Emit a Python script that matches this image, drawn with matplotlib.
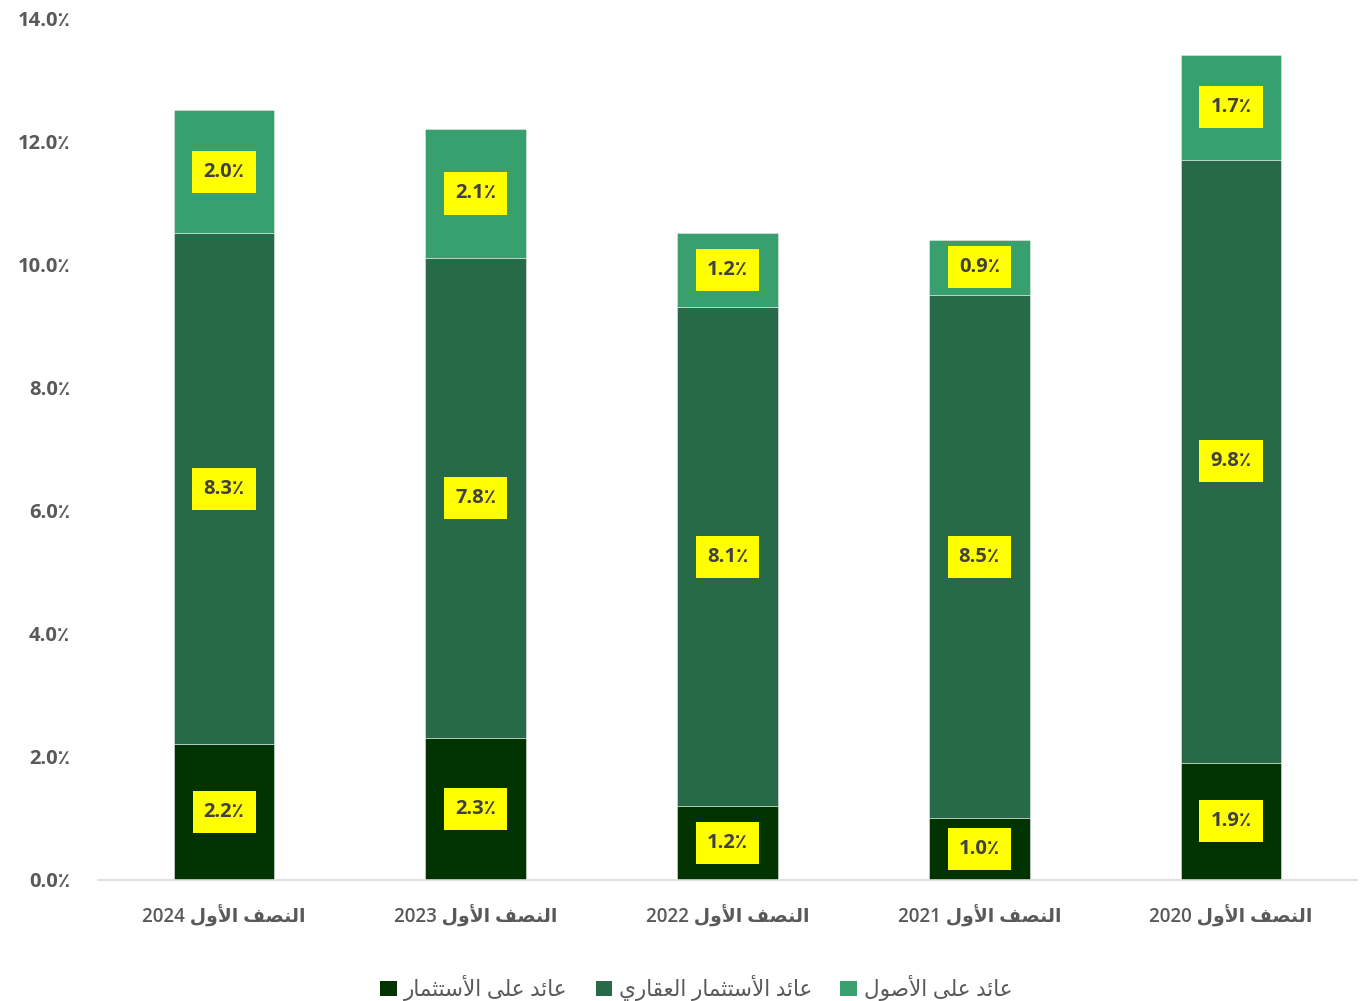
import numpy as np
import matplotlib
matplotlib.use("Agg")
import matplotlib.pyplot as plt
from matplotlib.patches import Patch

plt.rcParams['font.family'] = ['Open Sans', 'DejaVu Sans']

# data
periods = ["النصف الأول 2024", "النصف الأول 2023", "النصف الأول 2022",
           "النصف الأول 2021", "النصف الأول 2020"]
return_on_investment = [2.2, 2.3, 1.2, 1.0, 1.9]
real_estate_return = [8.3, 7.8, 8.1, 8.5, 9.8]
return_on_assets = [2.0, 2.1, 1.2, 0.9, 1.7]
series_names = ["عائد على الأستثمار", "عائد الأستثمار العقاري", "عائد على الأصول"]
yticks = [0, 2, 4, 6, 8, 10, 12, 14]

colors = ["#003300", "#276A48", "#38A06F"]
text_gray = "#595959"

# simple arabic shaping: (isolated, final, initial, medial); None = no left join
FORMS = {
    'ا': (0xFE8D, 0xFE8E, None, None), 'أ': (0xFE83, 0xFE84, None, None),
    'ت': (0xFE95, 0xFE96, 0xFE97, 0xFE98), 'ث': (0xFE99, 0xFE9A, 0xFE9B, 0xFE9C),
    'د': (0xFEA9, 0xFEAA, None, None), 'ر': (0xFEAD, 0xFEAE, None, None),
    'س': (0xFEB1, 0xFEB2, 0xFEB3, 0xFEB4), 'ص': (0xFEB9, 0xFEBA, 0xFEBB, 0xFEBC),
    'ع': (0xFEC9, 0xFECA, 0xFECB, 0xFECC), 'ف': (0xFED1, 0xFED2, 0xFED3, 0xFED4),
    'ق': (0xFED5, 0xFED6, 0xFED7, 0xFED8), 'ل': (0xFEDD, 0xFEDE, 0xFEDF, 0xFEE0),
    'م': (0xFEE1, 0xFEE2, 0xFEE3, 0xFEE4), 'ن': (0xFEE5, 0xFEE6, 0xFEE7, 0xFEE8),
    'و': (0xFEED, 0xFEEE, None, None), 'ى': (0xFEEF, 0xFEF0, None, None),
    'ي': (0xFEF1, 0xFEF2, 0xFEF3, 0xFEF4), 'ئ': (0xFE89, 0xFE8A, 0xFE8B, 0xFE8C),
}
LAM_ALEF = {'ا': (0xFEFB, 0xFEFC), 'أ': (0xFEF7, 0xFEF8)}


def shape_word(w):
    chars = list(w)
    # merge lam-alef
    units = []
    i = 0
    while i < len(chars):
        if chars[i] == 'ل' and i + 1 < len(chars) and chars[i + 1] in LAM_ALEF:
            units.append(('LA', chars[i + 1]))
            i += 2
        else:
            units.append(('C', chars[i]))
            i += 1

    def joins_left(u):
        return u[0] == 'C' and u[1] in FORMS and FORMS[u[1]][2] is not None

    out = []
    for k, u in enumerate(units):
        prev_joins = k > 0 and joins_left(units[k - 1])
        if u[0] == 'LA':
            code = LAM_ALEF[u[1]][1 if prev_joins else 0]
            out.append(chr(code))
            continue
        c = u[1]
        if c not in FORMS:
            out.append(c)
            continue
        f = FORMS[c]
        next_exists = k + 1 < len(units) and (units[k + 1][0] == 'LA' or units[k + 1][1] in FORMS)
        can_left = f[2] is not None and next_exists
        if prev_joins and can_left:
            out.append(chr(f[3]))
        elif prev_joins:
            out.append(chr(f[1]))
        elif can_left:
            out.append(chr(f[2]))
        else:
            out.append(chr(f[0]))
    return ''.join(reversed(out))


def ar(s):
    words = s.split(' ')
    vis = [w if w.isdigit() else shape_word(w) for w in words]
    return ' '.join(reversed(vis))


fig = plt.figure(figsize=(13.63, 10.01), dpi=100)
ax = fig.add_axes([0.072, 0.121, 0.9236, 0.861])

x = np.arange(len(periods))
width = 0.4
stacks = [return_on_investment, real_estate_return, return_on_assets]
bottom = np.zeros(len(periods))
for vals, col in zip(stacks, colors):
    vals = np.array(vals)
    ax.bar(x, vals, width, bottom=bottom, color=col, edgecolor="#e8e8e8",
           linewidth=0.4, zorder=2)
    for xi, b, v in zip(x, bottom, vals):
        ax.text(xi, b + v / 2, f"{v:.1f}٪", ha="center", va="center",
                fontsize=14.5, fontweight="bold", color="#404040", zorder=3,
                bbox=dict(boxstyle="square,pad=0.55", fc="#FFFF00", ec="none"))
    bottom += vals

ax.set_xlim(-0.5, len(periods) - 0.5)
ax.set_ylim(0, 14)
ax.set_yticks(yticks)
ax.set_yticklabels([f"{t:.1f}٪" for t in yticks], fontsize=14.5,
                   fontweight="bold", color=text_gray)
ax.set_xticks(x)
ax.set_xticklabels([ar(p) for p in periods], fontsize=13.5,
                   fontweight="semibold", color=text_gray)
ax.tick_params(axis="both", length=0)
ax.tick_params(axis="x", pad=18)
ax.tick_params(axis="y", pad=20)
for s in ["top", "right", "left"]:
    ax.spines[s].set_visible(False)
ax.spines["bottom"].set_color("#d9d9d9")
ax.spines["bottom"].set_linewidth(1.2)

handles = [Patch(facecolor=c, label=ar(n)) for c, n in zip(colors, series_names)]
leg = fig.legend(handles=handles, loc="center", bbox_to_anchor=(0.511, 0.013),
                 ncol=3, frameon=False, fontsize=15.5, handlelength=0.75,
                 handleheight=0.75, handletextpad=0.35, columnspacing=1.3)
for t in leg.get_texts():
    t.set_color(text_gray)

fig.savefig("out.png", dpi=100)
